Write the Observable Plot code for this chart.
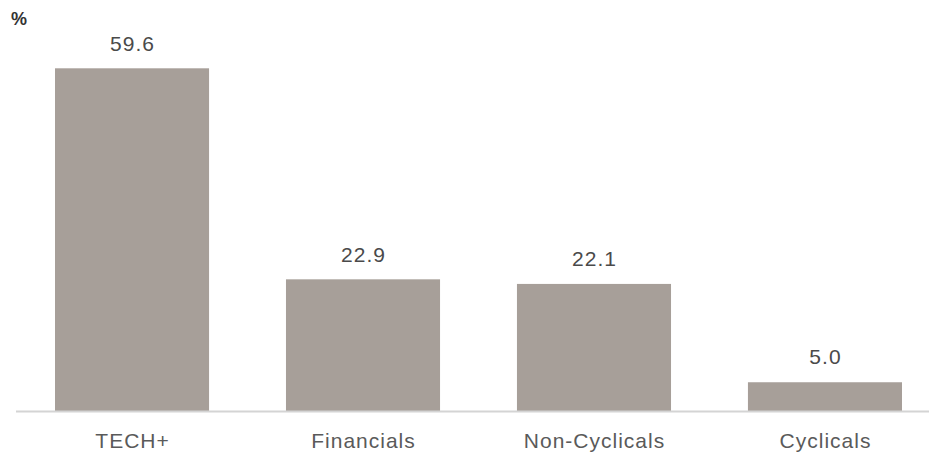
<!DOCTYPE html>
<html>
<head>
<meta charset="utf-8">
<script src="https://cdn.jsdelivr.net/npm/d3@7"></script>
<script src="https://cdn.jsdelivr.net/npm/@observablehq/plot@0.6"></script>
<style>
  html, body { margin: 0; padding: 0; background: #fff; }
  #wrap { position: relative; width: 929px; height: 457px; font-family: "Liberation Sans", Arial, sans-serif; }
  #unit { position: absolute; left: 11px; top: 9px; font-size: 18px; font-weight: bold; color: #333; }
  #wrap svg text { letter-spacing: 1px; }
</style>
</head>
<body>
<div id="wrap"><div id="unit">%</div></div>
<script>
const categories = ["TECH+", "Financials", "Non-Cyclicals", "Cyclicals"];
const values = [59.6, 22.9, 22.1, 5.0];
const valueLabels = ["59.6", "22.9", "22.1", "5.0"];

const data = categories.map((c, i) => ({category: c, value: values[i], label: valueLabels[i]}));

const chart = Plot.plot({
  width: 929,
  height: 457,
  marginLeft: 55,
  marginRight: 27,
  marginTop: 66,
  marginBottom: 46,
  style: {fontFamily: "'Liberation Sans', Arial, sans-serif", background: "#fff"},
  x: {domain: categories, paddingInner: 0.333, paddingOuter: 0, round: false, label: null},
  y: {domain: [0, 60], axis: null},
  marks: [
    Plot.barY(data, {x: "category", y: "value", fill: "#a79f99"}),
    Plot.ruleY([0], {stroke: "#d4d4d4", strokeWidth: 2, insetLeft: -39, insetRight: -27}),
    Plot.text(data, {x: "category", y: "value", text: "label", dy: -25, fontSize: 21, fill: "#4a4a4a"}),
    Plot.axisX({tickSize: 0, tickPadding: 22, fontSize: 21, color: "#5a5a5a", label: null})
  ]
});
document.getElementById("wrap").appendChild(chart);
</script>
</body>
</html>
